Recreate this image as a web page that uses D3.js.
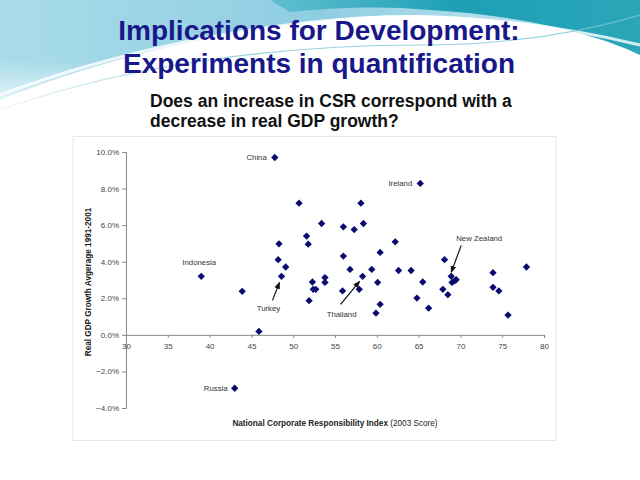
<!DOCTYPE html>
<html><head><meta charset="utf-8">
<script src="https://cdn.jsdelivr.net/npm/d3@7"></script>
<style>html,body{margin:0;padding:0;background:#fff;}svg{display:block;}</style>
</head><body>
<svg id="c" width="640" height="480"></svg>
<script>
const titleLines = ["Implications for Development:", "Experiments in quantification"];
const subtitleLines = ["Does an increase in CSR correspond with a", "decrease in real GDP growth?"];
const xTicks = [30,35,40,45,50,55,60,65,70,75,80];
const yTicks = [-0.04,-0.02,0,0.02,0.04,0.06,0.08,0.10];
const csrScores = [47.8,65.2,39.0,43.9,45.9,43.0,50.7,58.1,53.4,56.0,57.3,58.4,51.6,51.8,48.3,62.2,56.0,60.4,68.1,77.9,48.2,49.1,56.8,59.4,62.6,64.1,73.9,48.6,53.8,58.3,52.3,60.1,65.5,53.8,68.9,69.5,69.0,69.3,52.4,52.7,55.9,57.9,67.9,73.9,74.6,68.5,64.8,51.9,60.4,59.9,66.2,75.7];
const gdpGrowth = [0.0970,0.0828,0.0320,0.0238,0.0019,-0.0292,0.0720,0.0720,0.0609,0.0591,0.0576,0.0609,0.0540,0.0496,0.0498,0.0509,0.0431,0.0451,0.0411,0.0371,0.0411,0.0371,0.0358,0.0358,0.0352,0.0352,0.0340,0.0320,0.0313,0.0320,0.0289,0.0287,0.0289,0.0287,0.0320,0.0302,0.0287,0.0295,0.0249,0.0249,0.0240,0.0249,0.0249,0.0260,0.0240,0.0220,0.0201,0.0187,0.0167,0.0119,0.0146,0.0108];
const labelNames = ["China","Ireland","Indonesia","Russia","Turkey","Thailand","New Zealand"];
const labelIndex = [0,1,2,5,27,29,34];

const svg = d3.select("#c");
const defs = svg.append("defs");
const g1 = defs.append("linearGradient").attr("id","sky").attr("x1","0").attr("y1","0").attr("x2","1").attr("y2","0");
g1.append("stop").attr("offset","0").attr("stop-color","#a9dcea");
g1.append("stop").attr("offset","0.5").attr("stop-color","#8fcde2");
g1.append("stop").attr("offset","1").attr("stop-color","#cfeef5");
const g2 = defs.append("linearGradient").attr("id","teal").attr("x1","0").attr("y1","0").attr("x2","1").attr("y2","0");
g2.append("stop").attr("offset","0").attr("stop-color","#5fc0d0");
g2.append("stop").attr("offset","0.5").attr("stop-color","#1f9fb5");
g2.append("stop").attr("offset","1").attr("stop-color","#2aa6b8");
const g3 = defs.append("linearGradient").attr("id","fade").attr("x1","0").attr("y1","0").attr("x2","0").attr("y2","1");
g3.append("stop").attr("offset","0").attr("stop-color","#ffffff").attr("stop-opacity",0);
g3.append("stop").attr("offset","1").attr("stop-color","#ffffff").attr("stop-opacity",1);

// background swoosh
svg.append("path").attr("d","M0,0 L640,0 L640,40 C520,20 420,8 330,20 C230,30 110,55 0,100 Z").attr("fill","url(#sky)");
svg.append("path").attr("d","M270,0 L640,0 L640,55 C600,35 520,15 430,10 C380,5 330,8 290,12 Z").attr("fill","url(#teal)");
svg.append("path").attr("d","M0,95 C120,50 250,25 360,18 C450,12 560,25 640,45").attr("fill","none").attr("stroke","#ffffff").attr("stroke-width",3).attr("opacity",0.8);
svg.append("path").attr("d","M0,110 C140,60 300,45 420,45 C520,45 590,30 640,15").attr("fill","none").attr("stroke","#7cc7d8").attr("stroke-width",1.2).attr("opacity",0.8);
svg.append("rect").attr("x",0).attr("y",60).attr("width",640).attr("height",60).attr("fill","url(#fade)");

// titles
svg.append("g").selectAll("text").data(titleLines).join("text")
  .attr("x",319).attr("y",(d,i)=>40+i*33).attr("text-anchor","middle")
  .attr("font-family","Liberation Sans, Arial, sans-serif").attr("font-weight","bold")
  .attr("font-size",28).attr("fill","#18188a").text(d=>d);
svg.append("g").selectAll("text").data(subtitleLines).join("text")
  .attr("x",150).attr("y",(d,i)=>107+i*20)
  .attr("font-family","Liberation Sans, Arial, sans-serif").attr("font-weight","bold")
  .attr("font-size",17.5).attr("fill","#111").text(d=>d);

// chart frame
svg.append("rect").attr("x",73).attr("y",136.5).attr("width",483).attr("height",304).attr("fill","#fff").attr("stroke","#e6e6e6").attr("stroke-width",1);

const x = d3.scaleLinear().domain([30,80]).range([126,544]);
const y = d3.scaleLinear().domain([-0.04,0.10]).range([408,152]);
const font = "Liberation Sans, Arial, sans-serif";

const yAxis = svg.append("g").attr("transform",`translate(${x(30)},0)`)
  .call(d3.axisLeft(y).tickValues(yTicks).tickFormat(d3.format(".1%")).tickSize(4).tickPadding(3));
const xAxis = svg.append("g").attr("transform",`translate(0,${y(0)})`)
  .call(d3.axisBottom(x).tickValues(xTicks).tickFormat(d3.format("d")).tickSize(3).tickPadding(5));
[yAxis,xAxis].forEach(a=>{
  a.select(".domain").attr("stroke","#888");
  a.selectAll(".tick line").attr("stroke","#888");
  a.selectAll("text").attr("font-family",font).attr("font-size",8).attr("fill","#444");
});

// axis titles
svg.append("text").attr("transform","translate(91,282) rotate(-90)").attr("text-anchor","middle")
  .attr("font-family",font).attr("font-weight","bold").attr("font-size",8.2).attr("fill","#222")
  .text("Real GDP Growth Avgerage 1991-2001");
const xt = svg.append("text").attr("x",335).attr("y",426).attr("text-anchor","middle")
  .attr("font-family",font).attr("font-size",8.2).attr("fill","#222");
xt.append("tspan").attr("font-weight","bold").text("National Corporate Responsibility Index ");
xt.append("tspan").text("(2003 Score)");

// points
const data = csrScores.map((v,i)=>({x:v,y:gdpGrowth[i]}));
svg.append("g").selectAll("path").data(data).join("path")
  .attr("d",d3.symbol().type(d3.symbolDiamond2).size(34))
  .attr("transform",d=>`translate(${x(d.x)},${y(d.y)})`)
  .attr("fill","#0a0a6e");

// labels
const lab = labelIndex.map((idx,i)=>({name:labelNames[i], d:data[idx]}));
const offs = {"China":[-8,3,"end"],"Ireland":[-8,3,"end"],"Indonesia":[-2,-11,"middle"],"Russia":[-7,3,"end"],
  "Turkey":[-13,35,"middle"],"Thailand":[-21,41,"middle"],"New Zealand":[28,-35,"middle"]};
svg.append("g").selectAll("text").data(lab).join("text")
  .attr("x",d=>x(d.d.x)+offs[d.name][0]).attr("y",d=>y(d.d.y)+offs[d.name][1])
  .attr("text-anchor",d=>offs[d.name][2])
  .attr("font-family",font).attr("font-size",7.8).attr("fill","#333").text(d=>d.name);

defs.append("marker").attr("id","ah").attr("viewBox","0 0 10 10").attr("refX",9).attr("refY",5)
  .attr("markerWidth",6).attr("markerHeight",6).attr("orient","auto")
  .append("path").attr("d","M0,1 L10,5 L0,9 Z").attr("fill","#111");
const arrows = {"Turkey":[-9,24,-2,6],"Thailand":[-22,28,-3,5],"New Zealand":[10,-31,0,-4]};
svg.append("g").selectAll("line").data(lab.filter(d=>arrows[d.name])).join("line")
  .attr("x1",d=>x(d.d.x)+arrows[d.name][0]).attr("y1",d=>y(d.d.y)+arrows[d.name][1])
  .attr("x2",d=>x(d.d.x)+arrows[d.name][2]).attr("y2",d=>y(d.d.y)+arrows[d.name][3])
  .attr("stroke","#111").attr("stroke-width",1.2).attr("marker-end","url(#ah)");
</script>
</body></html>
